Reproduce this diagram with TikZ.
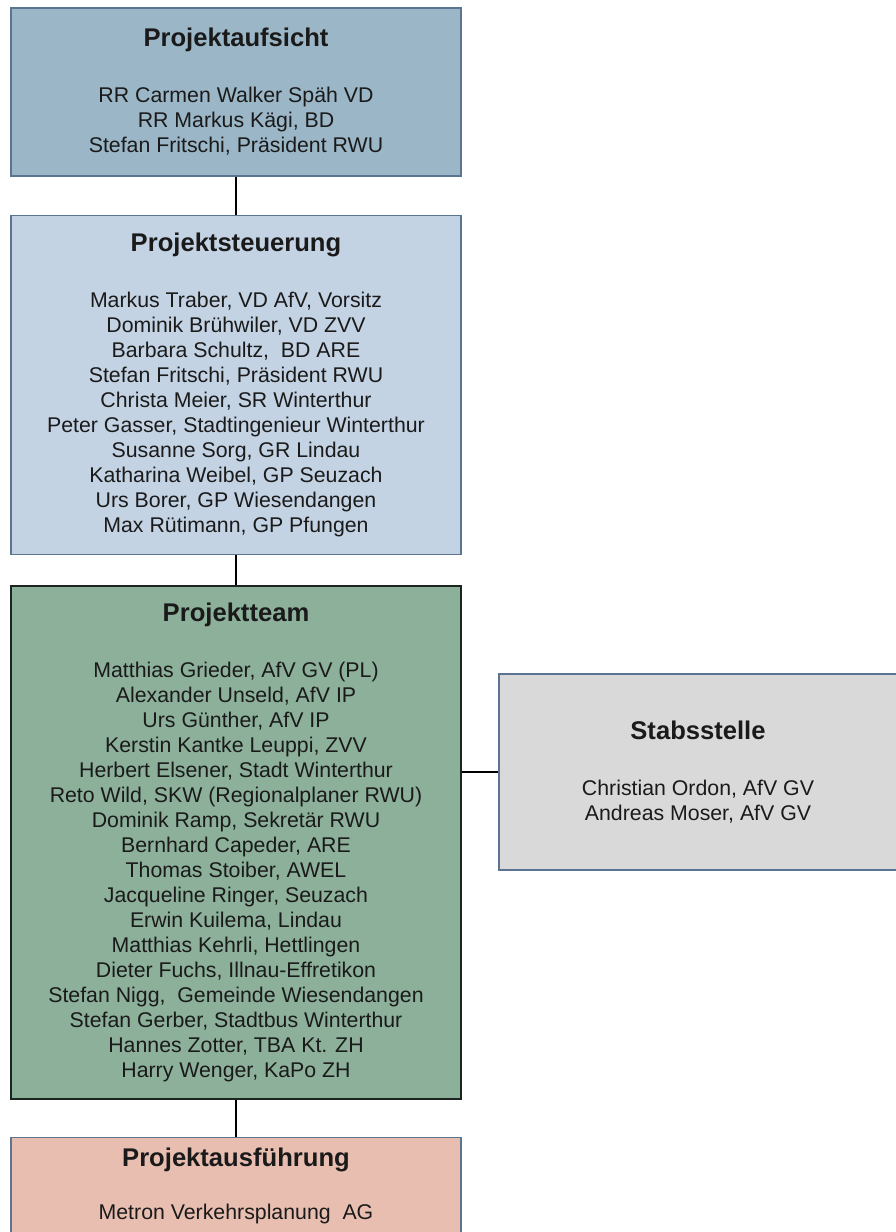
\documentclass[tikz,border=0pt]{standalone}
\usepackage{fontspec}
\setmainfont{Liberation Sans}
\usepackage{xcolor}
\usetikzlibrary{positioning}
\definecolor{rahmen}{HTML}{5B7493}
\definecolor{aufsichtblau}{HTML}{9BB6C7}
\definecolor{steuerblau}{HTML}{C4D3E4}
\definecolor{teamgruen}{HTML}{8CB09A}
\definecolor{teamrahmen}{HTML}{1C241F}
\definecolor{stabgrau}{HTML}{D9D9D9}
\definecolor{ausfrot}{HTML}{E8BEB1}
\definecolor{schrift}{HTML}{1A1A1A}
\newcommand{\titel}[2][31pt]{{\bfseries\fontsize{25.6}{30}\selectfont #2}\\[#1]}

\begin{document}
\begin{tikzpicture}[x=1pt,y=-1pt,
    box/.style={draw=rahmen,line width=1.3pt,rectangle,minimum width=450pt,align=center,
      text=schrift,inner sep=0pt,font=\fontsize{21.3}{25}\selectfont},
    verbindung/.style={line width=1.5pt,black}]
            \useasboundingbox (0,0) rectangle (896,1232);
            % Projektaufsicht
            \node[box,fill=aufsichtblau,minimum height=168pt] (aufsicht) at (236,92)
              {\titel{Projektaufsicht}RR Carmen Walker Späh VD\\RR Markus Kägi, BD\\Stefan Fritschi, Präsident RWU};

            % Projektsteuerung
            \node[box,fill=steuerblau,minimum height=339pt,below=38pt of aufsicht] (steuerung)
              {\titel{Projektsteuerung}Markus Traber, VD AfV, Vorsitz\\Dominik Brühwiler, VD ZVV\\
               Barbara Schultz, ~BD ARE\\Stefan Fritschi, Präsident RWU\\Christa Meier, SR Winterthur\\
               Peter Gasser, Stadtingenieur Winterthur\\Susanne Sorg, GR Lindau\\
               Katharina Weibel, GP Seuzach\\Urs Borer, GP Wiesendangen\\Max Rütimann, GP Pfungen};

            % Projektteam
            \node[box,fill=teamgruen,draw=teamrahmen,line width=2pt,minimum height=513pt,below=30pt of steuerung] (team)
              {\titel{Projektteam}Matthias Grieder, AfV GV (PL)\\Alexander Unseld, AfV IP\\
               Urs Günther, AfV IP\\Kerstin Kantke Leuppi, ZVV\\Herbert Elsener, Stadt Winterthur\\
               Reto Wild, SKW (Regionalplaner RWU)\\Dominik Ramp, Sekretär RWU\\
               Bernhard Capeder, ARE\\Thomas Stoiber, AWEL\\Jacqueline Ringer, Seuzach\\
               Erwin Kuilema, Lindau\\Matthias Kehrli, Hettlingen\\Dieter Fuchs, Illnau-Effretikon\\
               Stefan Nigg, ~Gemeinde Wiesendangen\\Stefan Gerber, Stadtbus Winterthur\\
               Hannes Zotter, TBA Kt. ZH\\Harry Wenger, KaPo ZH};

            % Stabsstelle
            \node[box,fill=stabgrau,minimum width=398pt,minimum height=196pt] (stab) at (698,772)
              {\titel{Stabsstelle}Christian Ordon, AfV GV\\Andreas Moser, AfV GV};

            % Projektausfuehrung
            \node[box,fill=ausfrot,minimum height=104pt,text depth=12pt,below=37pt of team] (ausfuehrung)
              {\titel[28pt]{Projektausführung}Metron Verkehrsplanung ~AG};

            % Verbindungen
            \draw[verbindung] (aufsicht) -- (steuerung);
            \draw[verbindung] (steuerung) -- (team);
            \draw[verbindung] (team) -- (ausfuehrung);
            \draw[verbindung] (team.east |- stab.west) -- (stab.west);
        \end{tikzpicture}
\end{document}
